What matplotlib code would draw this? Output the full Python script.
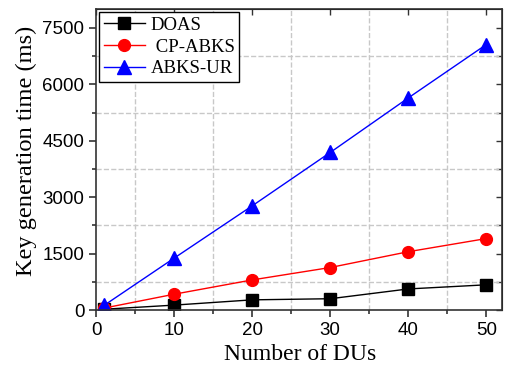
import matplotlib
matplotlib.use('Agg')
import matplotlib.pyplot as plt
from matplotlib.ticker import MultipleLocator

x = [1, 10, 20, 30, 40, 50]
doas = [20, 130, 270, 300, 560, 670]
cp_abks = [50, 420, 800, 1130, 1550, 1900]
abks_ur = [120, 1380, 2770, 4190, 5640, 7060]

fig = plt.figure(figsize=(5.06, 3.66), dpi=100)
ax = fig.add_axes([0.19, 0.153, 0.802, 0.822])

ax.plot(x, doas, color='black', marker='s', markersize=8, lw=1, label='DOAS')
ax.plot(x, cp_abks, color='red', marker='o', markersize=8.5, lw=1, label=' CP-ABKS')
ax.plot(x, abks_ur, color='blue', marker='^', markersize=9.5, lw=1, label='ABKS-UR')

ax.set_xlim(0, 52)
ax.set_ylim(0, 8000)
ax.xaxis.set_major_locator(MultipleLocator(10))
ax.xaxis.set_minor_locator(MultipleLocator(5))
ax.yaxis.set_major_locator(MultipleLocator(1500))
ax.yaxis.set_minor_locator(MultipleLocator(750))

ax.grid(which='minor', color='#c8c8c8', linestyle='--', lw=1)
ax.grid(which='major', visible=False)

for s in ax.spines.values():
    s.set_linewidth(1.2)
    s.set_color('#333333')

ax.tick_params(which='both', direction='out', top=False, right=False,
               labelsize=13.5, color='#333333')
ax.tick_params(which='major', length=5, width=1.2)
ax.tick_params(which='minor', length=3, width=1.2)
for lab in ax.get_xticklabels() + ax.get_yticklabels():
    lab.set_fontfamily('Liberation Sans')

# inward ticks on the top and right
ax2 = ax.secondary_xaxis('top')
ax2.xaxis.set_major_locator(MultipleLocator(10))
ax2.tick_params(direction='in', length=4, width=1, labeltop=False, color='#333333')
ax3 = ax.secondary_yaxis('right')
ax3.yaxis.set_major_locator(MultipleLocator(1500))
ax3.yaxis.set_minor_locator(MultipleLocator(750))
ax3.tick_params(which='both', direction='in', length=4, width=1, labelright=False, color='#333333')

ax.set_xlabel('Number of DUs', fontfamily='Liberation Serif', fontsize=17)
ax.set_ylabel('Key generation time (ms)', fontfamily='Liberation Serif', fontsize=17.6)
ax.xaxis.set_label_coords(0.503, -0.112)
ax.yaxis.set_label_coords(-0.145, 0.53)

leg = ax.legend(loc='upper left', prop={'family': 'Liberation Serif', 'size': 13.5},
                fancybox=False, edgecolor='black', framealpha=1,
                borderaxespad=0.15, handlelength=2.2, labelspacing=0.25,
                borderpad=0.25, handletextpad=0.3)
leg.get_frame().set_linewidth(1)

fig.savefig('out.png', dpi=100)
